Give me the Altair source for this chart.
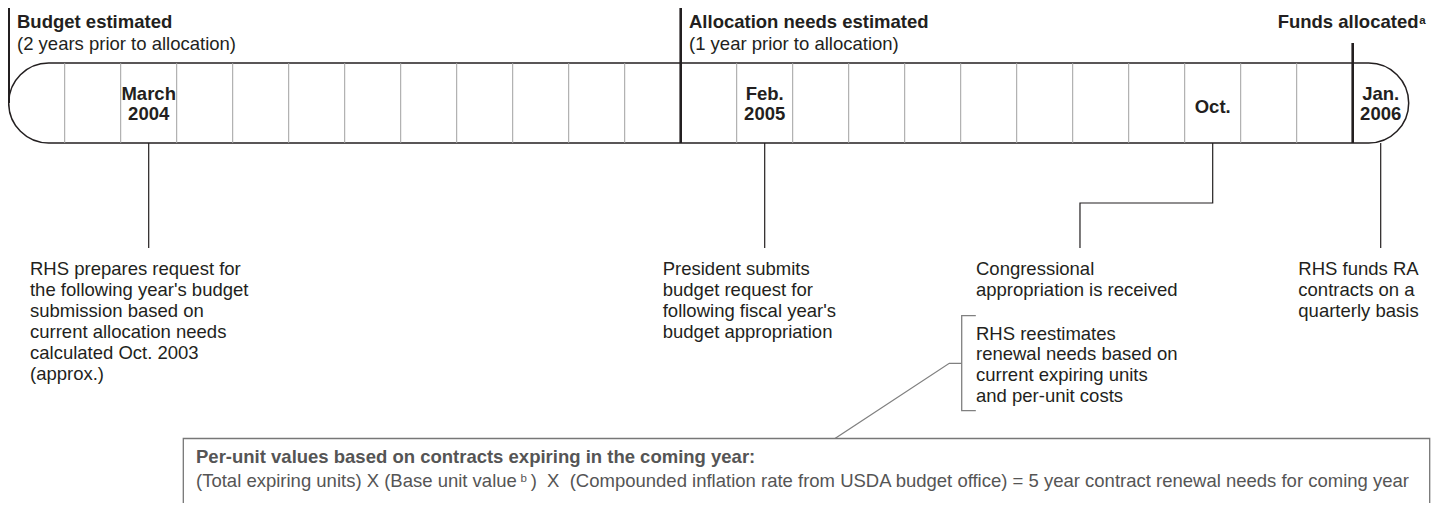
import altair as alt
import pandas as pd

# ---------------- content (months counted from Jan. 2004 = 0) ----------------
CELL_EDGES = list(range(1, 25))          # month boundaries inside the bar
YEAR_STARTS = [0, 12, 24]                # Jan. 2004, Jan. 2005, Jan. 2006

MONTH_LABELS = ["March\n2004", "Feb.\n2005", "Oct.", "Jan.\n2006"]
MONTH_INDEX = [2, 13, 21, 24]

PHASE_TITLES = ["Budget estimated", "Allocation needs estimated"]
PHASE_NOTES = ["(2 years prior to allocation)", "(1 year prior to allocation)"]
PHASE_START = [0, 12]
FINAL_TITLE = "Funds allocated"
FINAL_SUP = "a"
FINAL_START = 24

EVENT_TEXT = [
    "RHS prepares request for\nthe following year's budget\nsubmission based on\ncurrent allocation needs\ncalculated Oct. 2003\n(approx.)",
    "President submits\nbudget request for\nfollowing fiscal year's\nbudget appropriation",
    "Congressional\nappropriation is received",
    "RHS funds RA\ncontracts on a\nquarterly basis",
]
EVENT_MONTH = [2, 13, 21, 24]

REESTIMATE_TEXT = "RHS reestimates\nrenewal needs based on\ncurrent expiring units\nand per-unit costs"

BOX_TITLE = "Per-unit values based on contracts expiring in the coming year:"
BOX_FORMULA_A = "(Total expiring units) X (Base unit value"
BOX_FORMULA_SUP = "b"
BOX_FORMULA_B = ")\u00a0\u00a0X\u00a0\u00a0(Compounded inflation rate from USDA budget office) = 5 year contract renewal needs for coming year"

# ---------------- layout (x in months, y in layout units) ----------------
FONT = "Liberation Sans"
DARK = "#231f20"
GRID = "#a0a0a0"
GRAYLINE = "#808080"
BOXTEXT = "#555555"
FS = 18.5

BAR_TOP, BAR_BOTTOM = 63, 143
BAR_END = 25
YEAR_RULE_TOP = [5, 7, 43]
YEAR_RULE_BOTTOM = [103, 143, 143]
MONTH_LABEL_Y = [99.5, 99.5, 113, 99.5]
CONNECT_END = 248
OCT_ELBOW_Y = 203
OCT_ELBOW_M = 19.13
EVENT_TEXT_M = [0.380, 11.679, 17.273, 23.029]
EVENT_TEXT_Y = 275
REEST_Y = 339.5
BRACKET_M, BRACKET_TICK_M, STUB_M, DIAG_M = 17.018, 17.27, 16.796, 14.755
BRACKET_TOP, BRACKET_MID, BRACKET_BOT = 315.7, 363.3, 410.7
BOX_M0, BOX_M1, BOX_TOP, BOX_BOT = 3.118, 25.375, 438.5, 515
BOX_TEXT_M, BOX_SUP_M, BOX_RIGHT_M = 3.345, 9.14, 25.005

XS = alt.Scale(domain=[-0.0125, 25.4161], nice=False, zero=False)
YS = alt.Scale(domain=[8, 503], reverse=True, nice=False, zero=False)


def X(f):
    return alt.X(f"{f}:Q", scale=XS, axis=None)


def Y(f):
    return alt.Y(f"{f}:Q", scale=YS, axis=None)


# ---------------- tables ----------------
bar_df = pd.DataFrame({"m0": [0], "m1": [BAR_END], "y0": [BAR_TOP], "y1": [BAR_BOTTOM]})
grid_df = pd.DataFrame({"m": [m for m in CELL_EDGES if m not in YEAR_STARTS]})
grid_df["y0"], grid_df["y1"] = BAR_TOP, BAR_BOTTOM
year_df = pd.DataFrame({"m": YEAR_STARTS, "y0": YEAR_RULE_TOP, "y1": YEAR_RULE_BOTTOM})
month_df = pd.DataFrame({"label": MONTH_LABELS, "m": [i + 0.5 for i in MONTH_INDEX], "y": MONTH_LABEL_Y})

conn_rows = []
for k, mi in enumerate(EVENT_MONTH):
    c = mi + 0.5
    if mi == 21:
        pts = [(c, BAR_BOTTOM), (c, OCT_ELBOW_Y), (OCT_ELBOW_M, OCT_ELBOW_Y), (OCT_ELBOW_M, CONNECT_END)]
    else:
        pts = [(c, BAR_BOTTOM), (c, CONNECT_END)]
    for s, (m, y) in enumerate(pts):
        conn_rows.append({"id": f"e{k}", "seq": s, "m": m, "y": y})
conn_df = pd.DataFrame(conn_rows)

event_df = pd.DataFrame({"label": EVENT_TEXT, "m": EVENT_TEXT_M, "y": [EVENT_TEXT_Y] * 4})
reest_df = pd.DataFrame({"label": [REESTIMATE_TEXT], "m": [EVENT_TEXT_M[2]], "y": [REEST_Y]})

gray_rows = []
for s, (m, y) in enumerate([(BRACKET_TICK_M, BRACKET_TOP), (BRACKET_M, BRACKET_TOP),
                            (BRACKET_M, BRACKET_BOT), (BRACKET_TICK_M, BRACKET_BOT)]):
    gray_rows.append({"id": "bracket", "seq": s, "m": m, "y": y})
for s, (m, y) in enumerate([(BRACKET_M, BRACKET_MID), (STUB_M, BRACKET_MID), (DIAG_M, BOX_TOP)]):
    gray_rows.append({"id": "stub", "seq": s, "m": m, "y": y})
gray_df = pd.DataFrame(gray_rows)

box_df = pd.DataFrame({"m0": [BOX_M0], "m1": [BOX_M1], "y0": [BOX_TOP], "y1": [BOX_BOT]})

head_df = pd.DataFrame({"label": PHASE_TITLES, "m": PHASE_START, "y": [28.3] * 2})
note_df = pd.DataFrame({"label": PHASE_NOTES, "m": PHASE_START, "y": [49.5] * 2})
final_df = pd.DataFrame({"label": [FINAL_TITLE], "m": [BAR_END], "y": [28.3]})
final_sup_df = pd.DataFrame({"label": [FINAL_SUP], "m": [BAR_END], "y": [23.5]})

box_title_df = pd.DataFrame({"label": [BOX_TITLE], "m": [BOX_TEXT_M], "y": [463]})
box_a_df = pd.DataFrame({"label": [BOX_FORMULA_A], "m": [BOX_TEXT_M], "y": [487]})
box_sup_df = pd.DataFrame({"label": [BOX_FORMULA_SUP], "m": [BOX_SUP_M], "y": [481.5]})
box_b_df = pd.DataFrame({"label": [BOX_FORMULA_B], "m": [BOX_RIGHT_M], "y": [487]})

# ---------------- layers ----------------
bar = alt.Chart(bar_df).mark_rect(cornerRadius=40, fill="white", stroke=DARK, strokeWidth=1.5).encode(
    x=X("m0"), x2="m1", y=Y("y0"), y2="y1")
grid = alt.Chart(grid_df).mark_rule(color=GRID, strokeWidth=1).encode(x=X("m"), y=Y("y0"), y2="y1")
years = alt.Chart(year_df).mark_rule(color=DARK, strokeWidth=2.6).encode(x=X("m"), y=Y("y0"), y2="y1")


def txt(df, **kw):
    base = dict(font=FONT, fontSize=FS, color=DARK, align="left", baseline="alphabetic",
                lineBreak="\n", lineHeight=21)
    base.update(kw)
    return alt.Chart(df).mark_text(**base).encode(x=X("m"), y=Y("y"), text="label:N")


months = txt(month_df, align="center", fontWeight="bold", lineHeight=20.5)
conns = alt.Chart(conn_df).mark_line(color=DARK, strokeWidth=1.2).encode(
    x=X("m"), y=Y("y"), detail="id:N", order="seq:Q")
events = txt(event_df)
reest = txt(reest_df, lineHeight=20.8)
gray = alt.Chart(gray_df).mark_line(color=GRAYLINE, strokeWidth=1.3).encode(
    x=X("m"), y=Y("y"), detail="id:N", order="seq:Q")
box = alt.Chart(box_df).mark_rect(fill="white", fillOpacity=0, stroke="#777777", strokeWidth=1.3, clip=True).encode(
    x=X("m0"), x2="m1", y=Y("y0"), y2="y1")

heads = txt(head_df, fontWeight="bold", dx=8.3)
notes = txt(note_df, dx=8.3)
final = txt(final_df, fontWeight="bold", align="right", dx=9.8)
final_sup = txt(final_sup_df, fontWeight="bold", fontSize=11.5, dx=10.6)

box_title = txt(box_title_df, fontWeight="bold", color=BOXTEXT)
box_a = txt(box_a_df, color=BOXTEXT)
box_sup = txt(box_sup_df, color=BOXTEXT, fontSize=11.5)
box_b = txt(box_b_df, color=BOXTEXT, align="right")

chart = alt.layer(
    bar, grid, years, months, conns, events, reest, gray, box,
    heads, notes, final, final_sup, box_title, box_a, box_sup, box_b,
).properties(
    width=1424, height=495, padding=0, autosize=alt.AutoSizeParams(type="none")
).configure_view(strokeWidth=0)

chart.save("out.html", embed_options={"renderer": "svg", "actions": False})
